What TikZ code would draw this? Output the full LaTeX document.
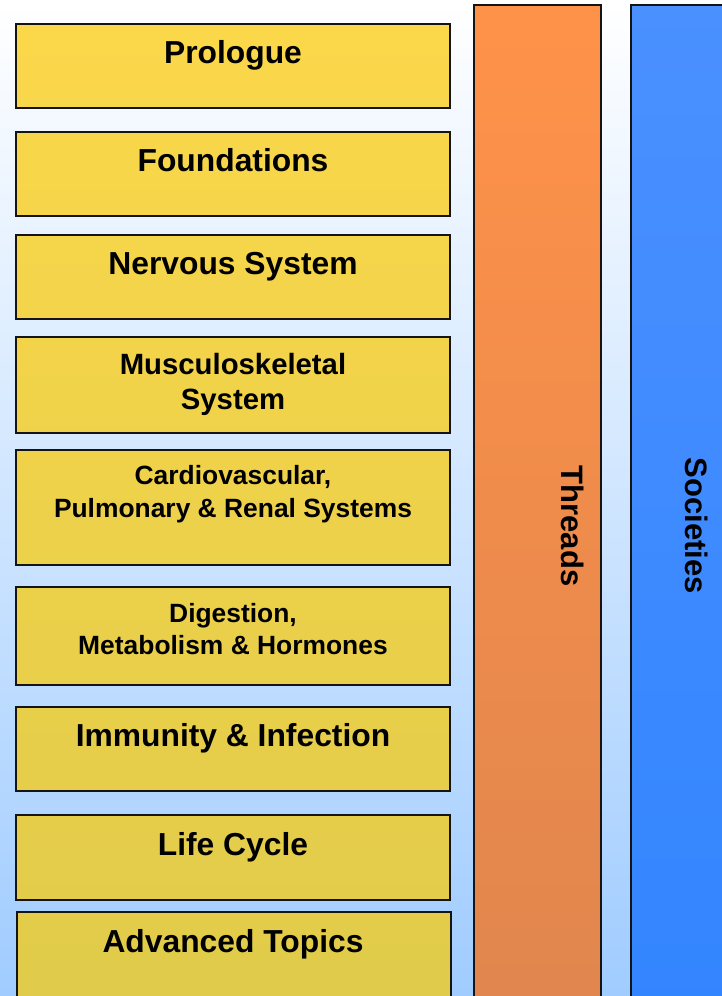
\documentclass[tikz,border=0pt]{standalone}
\usepackage{fontspec}
\setmainfont{Liberation Sans}
\definecolor{bgtop}{RGB}{255,255,255}
\definecolor{bgbot}{RGB}{160,204,255}
\definecolor{ytop}{RGB}{252,216,74}
\definecolor{ybot}{RGB}{224,203,74}
\definecolor{otop}{RGB}{255,146,73}
\definecolor{obot}{RGB}{224,134,78}
\definecolor{btop}{RGB}{74,144,255}
\definecolor{bbot}{RGB}{51,133,255}
\definecolor{edge}{RGB}{20,20,20}
\tikzset{
  ybox/.style 2 args={draw=edge, line width=1.6pt, top color=ybot!#1!ytop, bottom color=ybot!#2!ytop},
  colbox/.style={draw=edge, line width=2pt},
  big/.style={font=\bfseries\fontsize{31.8}{35}\selectfont, anchor=base, align=center},
  mid/.style={font=\bfseries\fontsize{29.3}{35}\selectfont, anchor=base, align=center},
  small/.style={font=\bfseries\fontsize{26.4}{#1}\selectfont, anchor=base, align=center},
  collabel/.style={font=\bfseries\fontsize{31}{35}\selectfont, rotate=-90}
}
\begin{document}
\begin{tikzpicture}[x=1pt,y=-1pt]
\useasboundingbox (0,0) rectangle (722,996);
\clip (0,0) rectangle (722,996);
\shade[top color=bgtop, bottom color=bgbot] (0,0) rectangle (722,996);
% columns
\shade[colbox, top color=otop, bottom color=obot] (474,5) rectangle (601,1010);
\coordinate (threadsbox) at (537.5,500);
\shade[colbox, top color=btop, bottom color=bbot] (631,5) rectangle (740,1010);
\coordinate (societiesbox) at (685,500);
\node[collabel] (threads) at (573,526) {Threads};
\node[collabel] (societies) at (697,526) {Societies};
% boxes
\shade[ybox={2}{11}] (16,24) rectangle (450,108);
\shade[ybox={13}{22}] (16,132) rectangle (450,216);
\shade[ybox={24}{32}] (16,235) rectangle (450,319);
\shade[ybox={34}{43}] (16,337) rectangle (450,433);
\shade[ybox={45}{57}] (16,450) rectangle (450,565);
\shade[ybox={59}{69}] (16,587) rectangle (450,685);
\shade[ybox={71}{79}] (16,707) rectangle (450,791);
\shade[ybox={82}{90}] (16,815) rectangle (450,900);
\shade[ybox={92}{100}, line width=2.2pt] (17,912) rectangle (451,1010);
% labels
\node[big] (prologue) at (233,63) {Prologue};
\node[big] (foundations) at (233,171) {Foundations};
\node[big] (nervous) at (233,274) {Nervous System};
\node[mid] (musculo) at (233,409.5) {Musculoskeletal\\System};
\node[small=33] (cardio) at (233,517.5) {Cardiovascular,\\Pulmonary \& Renal Systems};
\node[small=32] (digestion) at (233,654) {Digestion,\\Metabolism \& Hormones};
\node[big] (immunity) at (233,746) {Immunity \& Infection};
\node[big] (lifecycle) at (233,855) {Life Cycle};
\node[big] (advanced) at (233,952) {Advanced Topics};
\end{tikzpicture}
\end{document}
